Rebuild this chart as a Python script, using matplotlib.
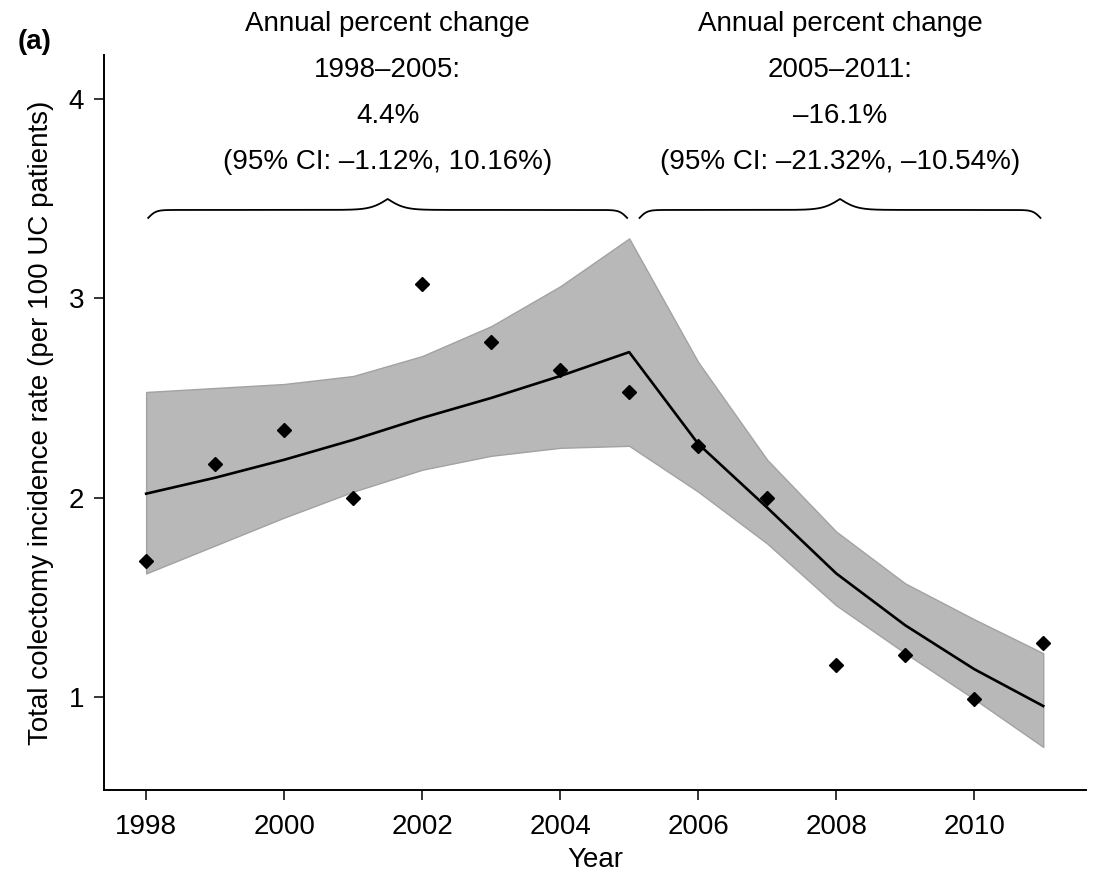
"""Total colectomy incidence rate with joinpoint fit and 95% CI band."""

import numpy as np
import matplotlib
matplotlib.use("Agg")
import matplotlib.pyplot as plt

# ─── Data ───
years = [1998, 1999, 2000, 2001, 2002, 2003, 2004,
         2005, 2006, 2007, 2008, 2009, 2010, 2011]
observed = [1.68, 2.17, 2.34, 2.00, 3.07, 2.78, 2.64,
            2.53, 2.26, 2.00, 1.16, 1.21, 0.99, 1.27]
fitted = [2.02, 2.10, 2.19, 2.29, 2.40, 2.50, 2.61,
          2.73, 2.27, 1.95, 1.62, 1.36, 1.14, 0.955]
ci_upper = [2.53, 2.55, 2.57, 2.61, 2.71, 2.86, 3.06,
            3.30, 2.68, 2.19, 1.83, 1.57, 1.39, 1.22]
ci_lower = [1.62, 1.76, 1.90, 2.03, 2.14, 2.21, 2.25,
            2.26, 2.03, 1.77, 1.46, 1.22, 0.99, 0.75]

seg_ranges = ["1998–2005:", "2005–2011:"]
seg_apc = ["4.4%", "–16.1%"]
seg_ci = ["(95% CI: –1.12%, 10.16%)", "(95% CI: –21.32%, –10.54%)"]
brace_x0 = [1998.03, 2005.15]
brace_x1 = [2004.97, 2010.96]

xticks = [1998, 2000, 2002, 2004, 2006, 2008, 2010]
yticks = [1, 2, 3, 4]


def draw_brace(ax, x0, x1, y_end, h_down, h_up, b_end=18.0, b_mid=8.0):
    half = (x1 - x0) / 2
    t = np.linspace(0, half, 400)
    s1 = 1 / (1 + np.exp(-b_end * t))
    s2 = 1 / (1 + np.exp(-b_mid * (t - half)))
    yh = y_end + (s1 - 0.5) * 2 * h_down + s2 * 2 * h_up
    xs = np.concatenate([x0 + t, x1 - t[::-1]])
    ys = np.concatenate([yh, yh[::-1]])
    ax.plot(xs, ys, color="black", lw=1.3, clip_on=False)


plt.rcParams.update({
    "font.family": ["Liberation Sans", "DejaVu Sans"],
    "font.size": 20,
})

fig = plt.figure(figsize=(10.94, 8.76), dpi=100)
ax = fig.add_axes([0.0951, 0.0982, 0.8976, 0.839])

ax.fill_between(years, ci_lower, ci_upper, facecolor="#b8b8b8",
                edgecolor="#a2a2a2", lw=1.0, zorder=1)
ax.plot(years, fitted, color="black", lw=1.9, zorder=2)
ax.plot(years, observed, linestyle="none", marker="D", ms=7.4,
        color="black", zorder=3)

ax.set_xlim(1997.39, 2011.62)
ax.set_ylim(0.534, 4.22)
ax.set_xticks(xticks)
ax.set_yticks(yticks)
ax.set_xticklabels([str(v) for v in xticks])
ax.set_yticklabels([str(v) for v in yticks])

for side in ("top", "right"):
    ax.spines[side].set_visible(False)
for side in ("left", "bottom"):
    ax.spines[side].set_linewidth(1.4)
ax.tick_params(direction="out", length=7.2, width=1.1, labelsize=20)
ax.tick_params(axis="x", pad=10)
ax.tick_params(axis="y", pad=7)

ax.set_xlabel("Year", fontsize=20, labelpad=5)
ax.set_ylabel("Total colectomy incidence rate (per 100 UC patients)",
              fontsize=20, labelpad=11)

# annotations above each segment
line_y = [4.374, 4.143, 3.915, 3.684]
for x0, x1, rng, apc, ci in zip(brace_x0, brace_x1, seg_ranges, seg_apc, seg_ci):
    xc = (x0 + x1) / 2
    for y, txt in zip(line_y, ["Annual percent change", rng, apc, ci]):
        ax.text(xc, y, txt, ha="center", va="center", fontsize=20,
                clip_on=False)
    draw_brace(ax, x0, x1, 3.403, 0.040, 0.055)

fig.text(0.016, 0.952, "(a)", fontsize=20, fontweight="bold",
         ha="left", va="center")

fig.savefig("out.png", dpi=100)
plt.close()
